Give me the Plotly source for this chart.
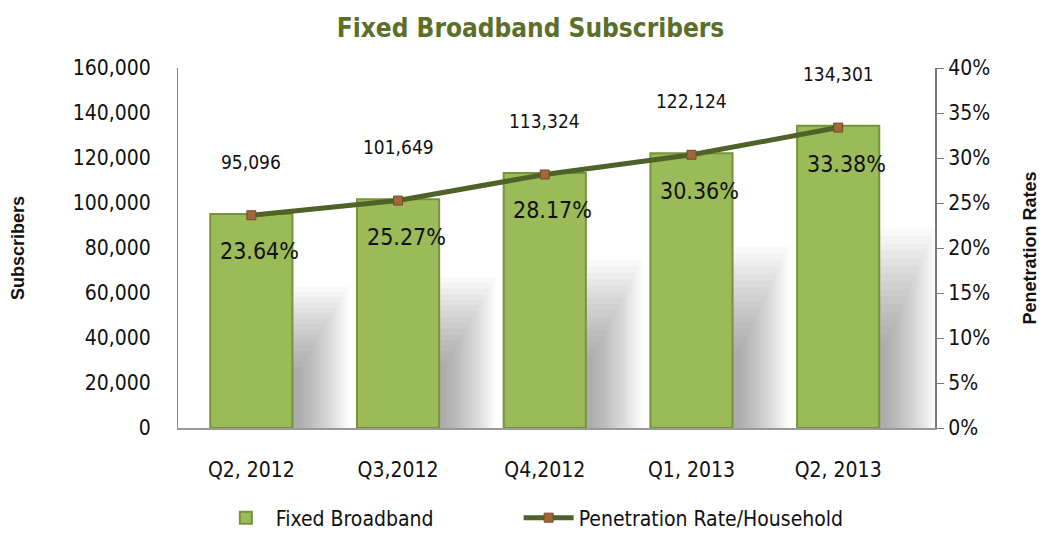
import plotly.graph_objects as go

categories = ["Q2, 2012", "Q3,2012", "Q4,2012", "Q1, 2013", "Q2, 2013"]
subscribers = [95096, 101649, 113324, 122124, 134301]
penetration = [0.2364, 0.2527, 0.2817, 0.3036, 0.3338]
left_ticks = [0, 20000, 40000, 60000, 80000, 100000, 120000, 140000, 160000]

FONT = "DejaVu Sans Condensed, Liberation Sans Narrow, Arial Narrow, sans-serif"
BAR_W = 0.56

fig = go.Figure()

# soft drop shadow to the right of each bar (decorative)
N = 16
for i in range(N):
    fig.add_trace(go.Bar(
        x=categories,
        y=[v * (0.66 - 0.025 * i) for v in subscribers],
        width=0.40 - 0.022 * i,
        offset=BAR_W / 2 - 0.02,
        marker=dict(color="rgba(70,70,70,0.032)", line=dict(width=0)),
        showlegend=False, hoverinfo="skip",
    ))

fig.add_trace(go.Bar(
    x=categories, y=subscribers, name="Fixed Broadband",
    width=BAR_W, offset=-BAR_W / 2, legend="legend",
    marker=dict(color="#9bbb59", line=dict(color="#77933c", width=2)),
))

fig.add_trace(go.Scatter(
    x=categories, y=penetration, name="Penetration Rate/Household",
    yaxis="y2", mode="lines+markers", legend="legend2",
    line=dict(color="#4f6228", width=5),
    marker=dict(symbol="square", size=9, color="#a0673a",
                line=dict(color="#7a4a25", width=1)),
))

annotations = []
for c, v in zip(categories, subscribers):
    annotations.append(dict(x=c, y=v, xref="x", yref="y", text=f"{v:,}",
                            showarrow=False, yshift=52,
                            font=dict(family=FONT, size=19, color="#111")))
for c, p in zip(categories, penetration):
    annotations.append(dict(x=c, y=p, xref="x", yref="y2", text=f"{p*100:.2f}%",
                            showarrow=False, yshift=-36, xshift=8,
                            font=dict(family=FONT, size=23, color="#111")))

legend_common = dict(orientation="h", y=-0.25, yanchor="middle", xanchor="left",
                     font=dict(family=FONT, size=21), itemwidth=50,
                     bgcolor="rgba(0,0,0,0)")

fig.update_layout(
    width=1045, height=543,
    paper_bgcolor="white", plot_bgcolor="white",
    barmode="overlay",
    margin=dict(l=170, r=118, t=60, b=123, autoexpand=False),
    title=dict(text="<b>Fixed Broadband Subscribers</b>", x=0.5, xanchor="center",
               y=0.963, yanchor="middle",
               font=dict(family=FONT, size=26, color="#5b6f2a")),
    font=dict(family=FONT, color="#111"),
    xaxis=dict(showgrid=False, showline=True, linecolor="#9a9a9a", linewidth=2,
               automargin=False,
               ticks="", tickfont=dict(size=21, family=FONT), ticklabelstandoff=22),
    yaxis=dict(range=[0, 160000], tickvals=left_ticks, tickformat=",d",
               automargin=False,
               showgrid=False, zeroline=False, showline=True, linecolor="#8a8a8a",
               linewidth=1, ticks="", tickfont=dict(size=21, family=FONT),
               ticklabelstandoff=22,
               title=dict(text="<b>Subscribers</b>", standoff=48,
                          font=dict(family="Liberation Sans, Arial, sans-serif", size=18))),
    yaxis2=dict(range=[0, 0.4], dtick=0.05, tickformat=".0%", overlaying="y",
                automargin=False,
                side="right", showgrid=False, zeroline=False, showline=True,
                linecolor="#7a7a7a", linewidth=2, ticks="outside", ticklen=7,
                tickcolor="#7a7a7a", tickfont=dict(size=21, family=FONT),
                title=dict(text="<b>Penetration Rates</b>", standoff=34,
                           font=dict(family="Liberation Sans, Arial, sans-serif", size=18))),
    legend=dict(x=0.05, **legend_common),
    legend2=dict(x=0.45, **legend_common),
    annotations=annotations,
    showlegend=True,
)

fig.write_html("out.html")
